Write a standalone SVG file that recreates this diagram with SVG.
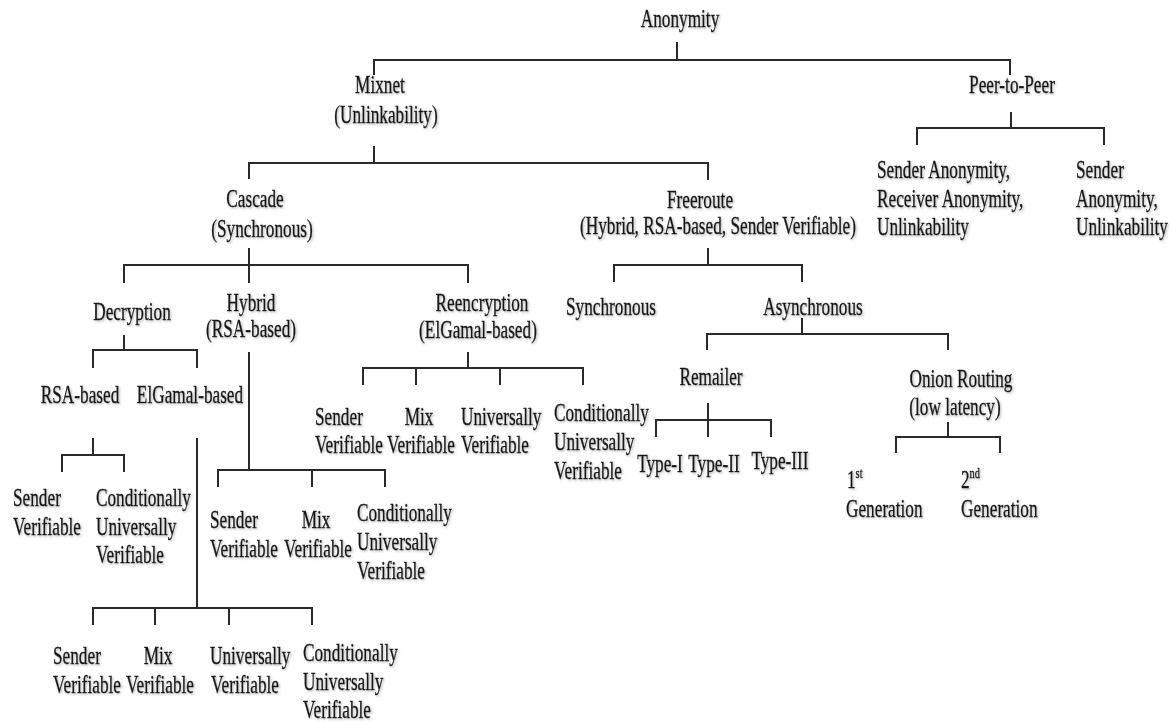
<svg xmlns="http://www.w3.org/2000/svg" width="1175" height="725" viewBox="0 0 1175 725">
<defs>
<filter id="sh" x="-10%" y="-30%" width="130%" height="160%">
<feDropShadow dx="1.2" dy="1.2" stdDeviation="0.9" flood-color="#777" flood-opacity="0.55"/>
</filter>
</defs>
<style>
text{font-family:"Liberation Serif","Times New Roman",serif;font-size:25px;fill:#151515;stroke:#151515;stroke-width:0.35px;}
.m{text-anchor:middle;}
.s{text-anchor:start;}
.sup{font-size:15px;}
.edges path{fill:none;stroke:#2a2a2a;stroke-width:2;}
.nodes{filter:url(#sh);}
</style>
<rect width="1175" height="725" fill="#ffffff"/>
<g class="edges" id="connectors">
<path d="M677 42 V60 M374 75 V60 H1010 V75"/>
<path d="M374 146 V163 M249 179 V163 H708 V180"/>
<path d="M1011 112 V128 M917 145 V128 H1104 V145"/>
<path d="M249 248 V283 M124 283 V265 H468 V283"/>
<path d="M708 248 V265 M614 282 V265 H802 V282"/>
<path d="M124 335 V350 M93 368 V350 H197 V368"/>
<path d="M249 352 V470 M218 487 V470 H385 V487 M312 470 V487"/>
<path d="M468 352 V368 M363 385 V368 H583 V385 M416 368 V385 M500 368 V385"/>
<path d="M802 318 V334 M707 350 V334 H948 V350"/>
<path d="M93 438 V455 M62 472 V455 H124 V472"/>
<path d="M197 438 V608 M93 625 V608 H312 V625 M155 608 V625 M229 608 V625"/>
<path d="M708 403 V437 M656 437 V420 H771 V437"/>
<path d="M948 422 V437 M896 453 V437 H1000 V453"/>
</g>
<g class="nodes">
<g id="anonymity"><text class="m" transform="translate(680 27) scale(0.69 1)">Anonymity</text></g>
<g id="mixnet"><text class="m" transform="translate(380 93) scale(0.69 1)">Mixnet</text><text class="m" transform="translate(386 123) scale(0.69 1)">(Unlinkability)</text></g>
<g id="peer-to-peer"><text class="m" transform="translate(1012 93) scale(0.69 1)">Peer-to-Peer</text></g>
<g id="p2p-sender-receiver"><text class="s" transform="translate(877 178) scale(0.69 1)">Sender Anonymity,</text><text class="s" transform="translate(877 207) scale(0.69 1)">Receiver Anonymity,</text><text class="s" transform="translate(877 235) scale(0.69 1)">Unlinkability</text></g>
<g id="p2p-sender"><text class="s" transform="translate(1076 178) scale(0.69 1)">Sender</text><text class="s" transform="translate(1076 207) scale(0.69 1)">Anonymity,</text><text class="s" transform="translate(1076 235) scale(0.69 1)">Unlinkability</text></g>
<g id="cascade"><text class="m" transform="translate(255 207) scale(0.69 1)">Cascade</text><text class="m" transform="translate(262 237) scale(0.69 1)">(Synchronous)</text></g>
<g id="freeroute"><text class="m" transform="translate(700 208) scale(0.69 1)">Freeroute</text><text class="m" transform="translate(718 234) scale(0.69 1)">(Hybrid, RSA-based, Sender Verifiable)</text></g>
<g id="decryption"><text class="m" transform="translate(132 320) scale(0.69 1)">Decryption</text></g>
<g id="hybrid"><text class="m" transform="translate(251 311) scale(0.69 1)">Hybrid</text><text class="m" transform="translate(251 337) scale(0.69 1)">(RSA-based)</text></g>
<g id="reencryption"><text class="m" transform="translate(482 311) scale(0.69 1)">Reencryption</text><text class="m" transform="translate(478 338) scale(0.69 1)">(ElGamal-based)</text></g>
<g id="fr-synchronous"><text class="m" transform="translate(611 315) scale(0.69 1)">Synchronous</text></g>
<g id="fr-asynchronous"><text class="m" transform="translate(813 315) scale(0.69 1)">Asynchronous</text></g>
<g id="dec-rsa"><text class="m" transform="translate(80 403) scale(0.69 1)">RSA-based</text></g>
<g id="dec-elgamal"><text class="m" transform="translate(190 403) scale(0.69 1)">ElGamal-based</text></g>
<g id="remailer"><text class="m" transform="translate(711 385) scale(0.69 1)">Remailer</text></g>
<g id="onion"><text class="m" transform="translate(961 387) scale(0.69 1)">Onion Routing</text><text class="m" transform="translate(955 415) scale(0.69 1)">(low latency)</text></g>
<g id="re-sender"><text class="s" transform="translate(315 425) scale(0.69 1)">Sender</text><text class="s" transform="translate(315 453) scale(0.69 1)">Verifiable</text></g>
<g id="re-mix"><text class="m" transform="translate(419 425) scale(0.69 1)">Mix</text><text class="m" transform="translate(421 453) scale(0.69 1)">Verifiable</text></g>
<g id="re-univ"><text class="s" transform="translate(461 425) scale(0.69 1)">Universally</text><text class="s" transform="translate(461 453) scale(0.69 1)">Verifiable</text></g>
<g id="re-cond"><text class="s" transform="translate(554 421) scale(0.69 1)">Conditionally</text><text class="s" transform="translate(554 450) scale(0.69 1)">Universally</text><text class="s" transform="translate(554 479) scale(0.69 1)">Verifiable</text></g>
<g id="type-1"><text class="m" transform="translate(660 472) scale(0.69 1)">Type-I</text></g>
<g id="type-2"><text class="m" transform="translate(714 472) scale(0.69 1)">Type-II</text></g>
<g id="type-3"><text class="m" transform="translate(780 469) scale(0.69 1)">Type-III</text></g>
<g id="gen-1"><text class="s" transform="translate(847 488) scale(0.69 1)">1<tspan class="sup" dy="-10">st</tspan></text><text class="s" transform="translate(846 517) scale(0.69 1)">Generation</text></g>
<g id="gen-2"><text class="s" transform="translate(961 488) scale(0.69 1)">2<tspan class="sup" dy="-10">nd</tspan></text><text class="s" transform="translate(961 517) scale(0.69 1)">Generation</text></g>
<g id="rsa-sender"><text class="s" transform="translate(13 506) scale(0.69 1)">Sender</text><text class="s" transform="translate(13 535) scale(0.69 1)">Verifiable</text></g>
<g id="rsa-cond"><text class="s" transform="translate(96 506) scale(0.69 1)">Conditionally</text><text class="s" transform="translate(96 535) scale(0.69 1)">Universally</text><text class="s" transform="translate(96 563) scale(0.69 1)">Verifiable</text></g>
<g id="hy-sender"><text class="s" transform="translate(210 528) scale(0.69 1)">Sender</text><text class="s" transform="translate(210 557) scale(0.69 1)">Verifiable</text></g>
<g id="hy-mix"><text class="m" transform="translate(316 528) scale(0.69 1)">Mix</text><text class="m" transform="translate(318 557) scale(0.69 1)">Verifiable</text></g>
<g id="hy-cond"><text class="s" transform="translate(357 521) scale(0.69 1)">Conditionally</text><text class="s" transform="translate(357 550) scale(0.69 1)">Universally</text><text class="s" transform="translate(357 579) scale(0.69 1)">Verifiable</text></g>
<g id="el-sender"><text class="s" transform="translate(53 664) scale(0.69 1)">Sender</text><text class="s" transform="translate(53 693) scale(0.69 1)">Verifiable</text></g>
<g id="el-mix"><text class="m" transform="translate(158 664) scale(0.69 1)">Mix</text><text class="m" transform="translate(160 693) scale(0.69 1)">Verifiable</text></g>
<g id="el-univ"><text class="s" transform="translate(210 664) scale(0.69 1)">Universally</text><text class="s" transform="translate(211 693) scale(0.69 1)">Verifiable</text></g>
<g id="el-cond"><text class="s" transform="translate(303 661) scale(0.69 1)">Conditionally</text><text class="s" transform="translate(303 690) scale(0.69 1)">Universally</text><text class="s" transform="translate(303 718) scale(0.69 1)">Verifiable</text></g>
</g>
</svg>
